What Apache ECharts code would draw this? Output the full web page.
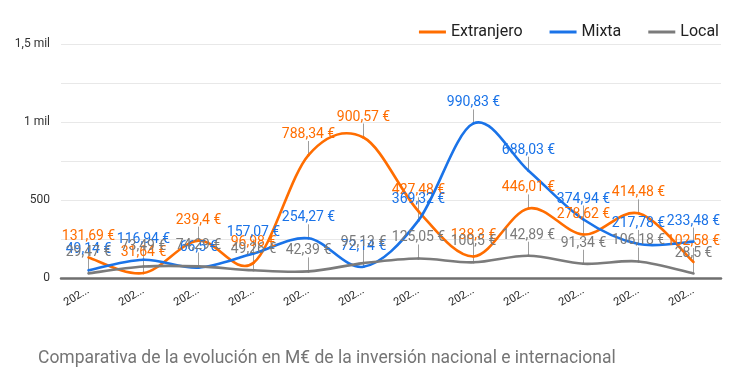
<!DOCTYPE html>
<html>
<head>
<meta charset="utf-8">
<script src="https://cdn.jsdelivr.net/npm/echarts@6/dist/echarts.min.js"></script>
<style>html,body{margin:0;padding:0;background:#fff}#c{width:744px;height:380px}</style>
</head>
<body>
<div id="c"></div>
<script>
var categories = ['2021 T1','2021 T2','2021 T3','2021 T4','2022 T1','2022 T2','2022 T3','2022 T4','2023 T1','2023 T2','2023 T3','2023 T4'];
var extranjero = [131.69, 31.64, 239.4, 96.98, 788.34, 900.57, 427.48, 138.3, 446.01, 278.62, 414.48, 102.58];
var mixta = [49.14, 116.94, 66.5, 157.07, 254.27, 72.14, 369.32, 990.83, 688.03, 374.94, 217.78, 233.48];
var local = [29.47, 73.49, 74.29, 49.26, 42.39, 95.13, 125.05, 100.5, 142.89, 91.34, 106.18, 28.5];
var yTicks = {0: '0', 500: '500', 1000: '1 mil', 1500: '1,5 mil'};
var seriesNames = ['Extranjero', 'Mixta', 'Local'];
var colors = ['#ff6d00', '#1a73e8', '#7b7b7b'];

var FONT = 'Roboto, Arial, sans-serif';
function fmt(v) { return String(v).replace('.', ',') + ' €'; }

var allData = [extranjero, mixta, local];
var stemData = [];
allData.forEach(function (arr) {
  arr.forEach(function (v, i) { stemData.push([i, v]); });
});

var series = [];
allData.forEach(function (arr, k) {
  // labels + legend carrier (line itself drawn by the curve series below)
  series.push({
    name: seriesNames[k],
    type: 'line',
    data: arr,
    symbol: 'circle',
    symbolSize: 1,
    showSymbol: true,
    z: 4,
    lineStyle: { width: 2.6, color: colors[k], opacity: 0 },
    itemStyle: { color: colors[k] },
    label: {
      show: true,
      position: 'top',
      distance: 13,
      formatter: function (p) { return fmt(p.value); },
      color: colors[k],
      fontFamily: FONT,
      fontSize: 14
    },
    emphasis: { disabled: true }
  });
});

allData.forEach(function (arr, k) {
  // Catmull-Rom style smooth curve through the points, via the axis scales
  series.push({
    name: seriesNames[k],
    type: 'custom',
    data: arr.map(function (v, i) { return [i, v]; }),
    z: 3,
    silent: true,
    renderItem: function (params, api) {
      var i = params.dataIndex;
      var n = arr.length;
      if (i >= n - 1) { return { type: 'group', children: [] }; }
      function pt(j) { j = Math.max(0, Math.min(n - 1, j)); return api.coord([j, arr[j]]); }
      var p0 = pt(i - 1), p1 = pt(i), p2 = pt(i + 1), p3 = pt(i + 2);
      var c1 = [p1[0] + (p2[0] - p0[0]) / 6, p1[1] + (p2[1] - p0[1]) / 6];
      var c2 = [p2[0] - (p3[0] - p1[0]) / 6, p2[1] - (p3[1] - p1[1]) / 6];
      return {
        type: 'bezierCurve',
        shape: { x1: p1[0], y1: p1[1], x2: p2[0], y2: p2[1], cpx1: c1[0], cpy1: c1[1], cpx2: c2[0], cpy2: c2[1] },
        style: { stroke: colors[k], lineWidth: 2.6, fill: null, lineCap: 'round' }
      };
    }
  });
});

series.push({
  name: 'stems',
  type: 'custom',
  data: stemData,
  z: 2,
  silent: true,
  renderItem: function (params, api) {
    var p = api.coord([api.value(0), api.value(1)]);
    return {
      type: 'line',
      shape: { x1: p[0], y1: p[1], x2: p[0], y2: p[1] - 14 },
      style: { stroke: '#9e9e9e', lineWidth: 1 }
    };
  }
});

var chart = echarts.init(document.getElementById('c'));
chart.setOption({
  animation: false,
  title: {
    text: 'Comparativa de la evolución en M€ de la inversión nacional e internacional',
    left: 33,
    top: 345,
    textStyle: { fontFamily: FONT, fontSize: 17.5, fontWeight: 'normal', color: '#757575' }
  },
  legend: {
    data: seriesNames.map(function (n, k) {
      return { name: n, icon: 'rect', itemStyle: { color: colors[k], opacity: 1 } };
    }),
    right: 20,
    top: 19,
    itemWidth: 27,
    itemHeight: 3,
    itemGap: 27,
    textStyle: { fontFamily: FONT, fontSize: 16, color: '#222' }
  },
  grid: { left: 61, right: 23, top: 44, bottom: 102 },
  xAxis: {
    type: 'category',
    data: categories,
    boundaryGap: true,
    axisTick: { show: false },
    axisLine: { show: true, lineStyle: { color: '#6f6f6f', width: 2.5 } },
    axisLabel: {
      rotate: 30,
      margin: 12,
      fontFamily: FONT,
      fontSize: 11,
      color: '#222',
      width: 32,
      overflow: 'truncate',
      ellipsis: '...'
    }
  },
  yAxis: {
    type: 'value',
    min: 0,
    max: 1500,
    interval: 250,
    axisLine: { show: false },
    axisTick: { show: false },
    splitLine: { lineStyle: { color: '#e8e8e8', width: 1 } },
    axisLabel: {
      margin: 11,
      fontFamily: FONT,
      fontSize: 12,
      color: '#333',
      formatter: function (v) { return yTicks[v] !== undefined ? yTicks[v] : ''; }
    }
  },
  series: series
});
</script>
</body>
</html>
